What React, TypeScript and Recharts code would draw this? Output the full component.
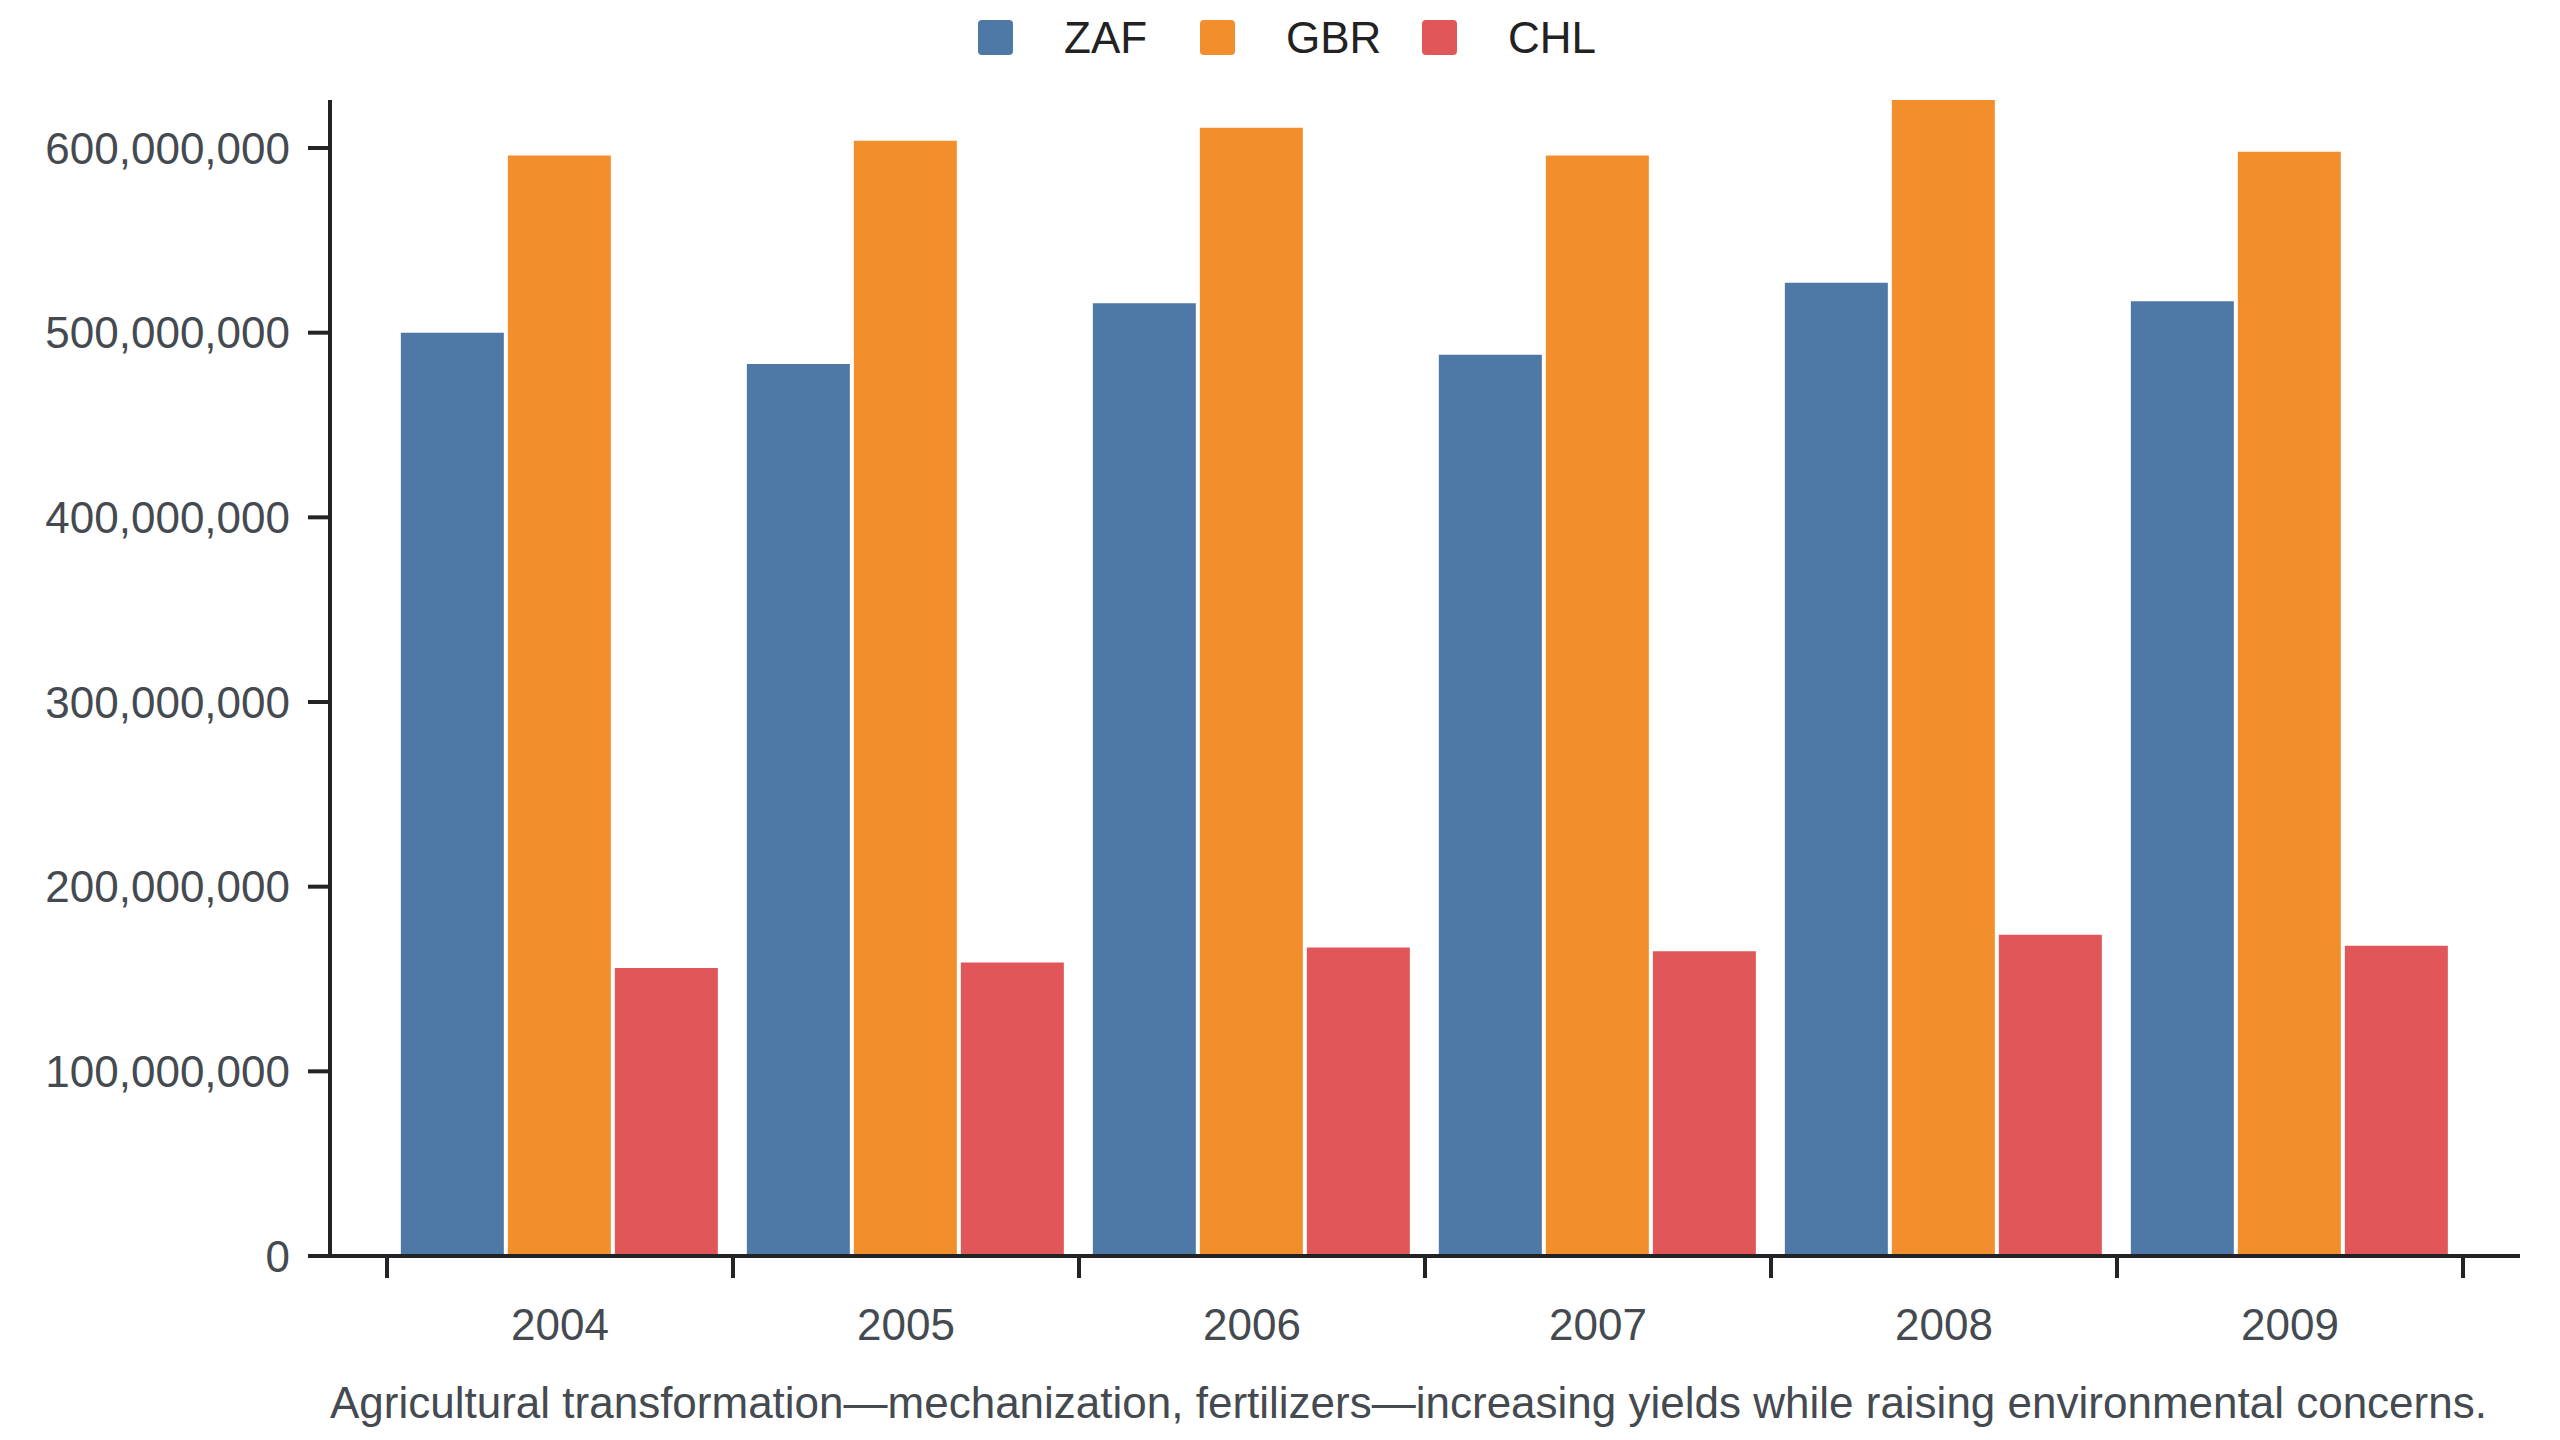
import { Bar, BarChart, XAxis, YAxis } from "recharts"

// Country totals by year
const years = ["2004", "2005", "2006", "2007", "2008", "2009"]
const zaf = [500e6, 483e6, 516e6, 488e6, 527e6, 517e6]
const gbr = [596e6, 604e6, 611e6, 596e6, 626e6, 598e6]
const chl = [156e6, 159e6, 167e6, 165e6, 174e6, 168e6]
const yTicks = [0, 100e6, 200e6, 300e6, 400e6, 500e6, 600e6]

const series = [
  { key: "ZAF", color: "#4e79a7" },
  { key: "GBR", color: "#f28e2b" },
  { key: "CHL", color: "#e15759" },
]

const caption =
  "Agricultural transformation\u2014mechanization, fertilizers\u2014increasing yields while raising environmental concerns."

const data = years.map((year, i) => ({
  year,
  ZAF: zaf[i],
  GBR: gbr[i],
  CHL: chl[i],
}))

const FONT = '"Liberation Sans", Arial, Helvetica, sans-serif'
const AXIS = "#212326"
const TEXT = "#444a50"
const FONT_SIZE = 44
const TICK_SIZE = 22
const TICK_MARGIN = 31

function YearTick(props: any) {
  const { x, y, payload, index } = props
  const half = payload.offset ?? 0
  const top = y - TICK_MARGIN - TICK_SIZE
  const bottom = y - TICK_MARGIN
  return (
    <g>
      <line x1={x - half} x2={x - half} y1={top} y2={bottom} stroke={AXIS} strokeWidth={4} />
      {index === years.length - 1 && (
        <line x1={x + half} x2={x + half} y1={top} y2={bottom} stroke={AXIS} strokeWidth={4} />
      )}
      <text x={x} y={y} dy="0.71em" textAnchor="middle" fill={TEXT} fontSize={FONT_SIZE} fontFamily={FONT}>
        {payload.value}
      </text>
    </g>
  )
}

export default function App() {
  return (
    <div style={{ position: "absolute", left: 0, top: 0, width: 2560, height: 1440, background: "#fff", fontFamily: FONT }}>
      <div style={{ position: "absolute", left: 978, top: 20, display: "flex", height: 35 }}>
        {series.map((s) => (
          <div key={s.key} style={{ width: 222, display: "flex", alignItems: "center" }}>
            <div style={{ width: 35, height: 35, borderRadius: 4, background: s.color }} />
            <span style={{ marginLeft: 51, fontSize: FONT_SIZE, color: "#222", lineHeight: "35px" }}>{s.key}</span>
          </div>
        ))}
      </div>

      <BarChart
        width={2560}
        height={1436}
        data={data}
        margin={{ top: 100, right: 40, bottom: 0, left: 0 }}
        barCategoryGap="4%"
        barGap={4}
      >
        <XAxis
          dataKey="year"
          height={180}
          padding={{ left: 57, right: 57 }}
          axisLine={{ stroke: AXIS, strokeWidth: 4 }}
          tickLine={false}
          tickSize={TICK_SIZE}
          tickMargin={TICK_MARGIN}
          tick={<YearTick />}
          interval={0}
        />
        <YAxis
          width={330}
          domain={[0, "dataMax"]}
          ticks={yTicks}
          tickFormatter={(v: number) => v.toLocaleString("en-US")}
          axisLine={{ stroke: AXIS, strokeWidth: 4 }}
          tickLine={{ stroke: AXIS, strokeWidth: 4 }}
          tickSize={TICK_SIZE}
          tickMargin={18}
          tick={{ fill: TEXT, fontSize: FONT_SIZE, fontFamily: FONT }}
        />
        {series.map((s) => (
          <Bar key={s.key} dataKey={s.key} fill={s.color} isAnimationActive={false} />
        ))}
      </BarChart>

      <div style={{ position: "absolute", left: 330, top: 1378, fontSize: FONT_SIZE, color: TEXT, whiteSpace: "nowrap" }}>
        {caption}
      </div>
    </div>
  )
}
